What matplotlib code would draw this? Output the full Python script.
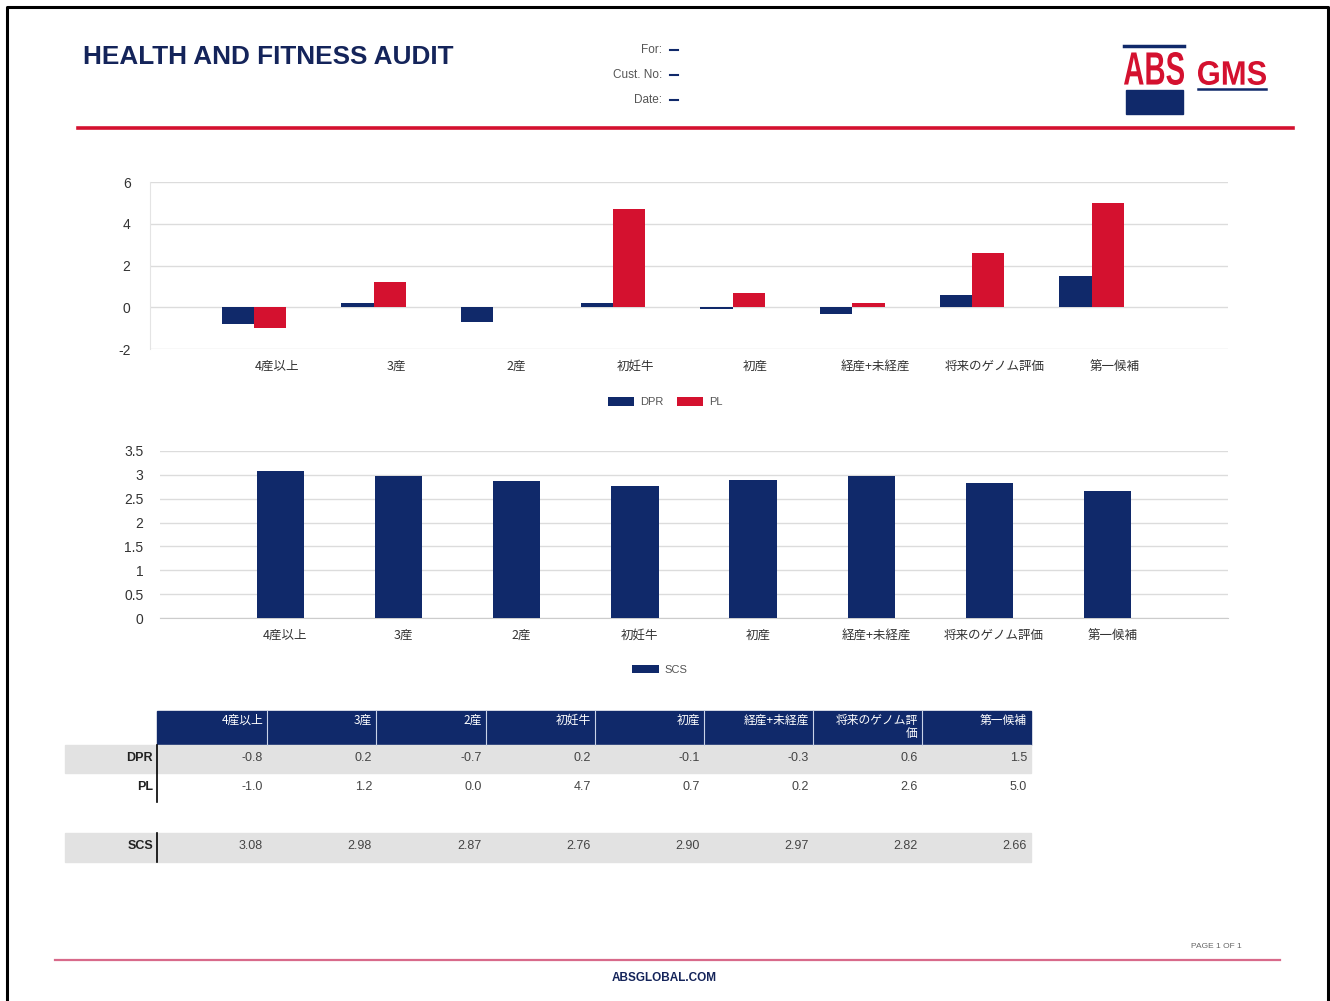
import matplotlib
matplotlib.use("Agg")
import matplotlib.pyplot as plt
from matplotlib.patches import Rectangle, PathPatch
from matplotlib.textpath import TextPath
from matplotlib.font_manager import FontProperties
from matplotlib.transforms import Affine2D
import numpy as np

# ---------------- data ----------------
categories = ["4産以上", "3産", "2産", "初妊牛", "初産", "経産+未経産", "将来のゲノム評価", "第一候補"]
header_labels = ["4産以上", "3産", "2産", "初妊牛", "初産", "経産+未経産", "将来のゲノム評\n価", "第一候補"]
dpr = [-0.8, 0.2, -0.7, 0.2, -0.1, -0.3, 0.6, 1.5]
pl = [-1.0, 1.2, 0.0, 4.7, 0.7, 0.2, 2.6, 5.0]
scs = [3.08, 2.98, 2.87, 2.76, 2.90, 2.97, 2.82, 2.66]
top_yticks = [-2, 0, 2, 4, 6]
bot_yticks = [0, 0.5, 1, 1.5, 2, 2.5, 3, 3.5]
bot_yticklabels = ["0", "0.5", "1", "1.5", "2", "2.5", "3", "3.5"]

NAVY = "#10296a"
RED = "#d4112f"
GRID = "#dcdcdc"
JP = ["Noto Sans CJK JP", "DejaVu Sans"]
SANS = ["Liberation Sans", "Noto Sans CJK JP", "DejaVu Sans"]

W, H = 1330, 1001
fig = plt.figure(figsize=(W / 100, H / 100), dpi=100)
fig.patch.set_facecolor("white")


def px_axes(x0, y0, x1, y1, **kw):
    return fig.add_axes([x0 / W, 1 - y1 / H, (x1 - x0) / W, (y1 - y0) / H], **kw)


# ---------------- top chart ----------------
ax1 = px_axes(150, 182, 1228, 349)
x = np.arange(len(categories))
bw = 0.27
ax1.bar(x - bw / 2, dpr, bw, color=NAVY, label="DPR", zorder=3)
ax1.bar(x + bw / 2, pl, bw, color=RED, label="PL", zorder=3)
ax1.set_xlim(-0.87, 8.14)
ax1.set_ylim(-2, 6)
ax1.set_yticks(top_yticks)
ax1.set_yticklabels([str(t) for t in top_yticks], fontsize=10, family=SANS, color="#333333")
ax1.set_xticks(x + 0.19)
ax1.set_xticklabels(categories, fontsize=9, family=JP, color="#333333")
ax1.tick_params(axis="both", length=0, pad=14)
ax1.tick_params(axis="x", pad=8)
ax1.grid(axis="y", color=GRID, linewidth=1, zorder=0)
for s in ["top", "right", "bottom"]:
    ax1.spines[s].set_visible(False)
ax1.spines["left"].set_color("#e4e4e4")
ax1.legend(loc="center", bbox_to_anchor=(0.5 + (665 - 689) / 1078, -0.32), ncol=2, frameon=False,
           prop={"family": SANS, "size": 8}, handlelength=2.4, handleheight=0.8,
           columnspacing=1.2, handletextpad=0.5, labelcolor="#555555")

# ---------------- bottom chart ----------------
ax2 = px_axes(160, 451, 1228, 618)
bw2 = 0.40
ax2.bar(x, scs, bw2, color=NAVY, label="SCS", zorder=3)
ax2.set_xlim(-1.02, 8.02)
ax2.set_ylim(0, 3.5)
ax2.set_yticks(bot_yticks)
ax2.set_yticklabels(bot_yticklabels, fontsize=10, family=SANS, color="#333333")
ax2.set_xticks(x + 0.04)
ax2.set_xticklabels(categories, fontsize=9, family=JP, color="#333333")
ax2.tick_params(axis="y", length=0, pad=12)
ax2.tick_params(axis="x", length=0, pad=8)
ax2.grid(axis="y", color=GRID, linewidth=1, zorder=0)
for s in ["top", "right", "left"]:
    ax2.spines[s].set_visible(False)
ax2.spines["bottom"].set_color("#cccccc")
ax2.legend(loc="center", bbox_to_anchor=((660 - 160) / 1068, -0.31), ncol=1, frameon=False,
           prop={"family": SANS, "size": 8}, handlelength=2.4, handleheight=0.8,
           handletextpad=0.5, labelcolor="#555555")

# ---------------- overlay (page furniture + table) ----------------
ov = fig.add_axes([0, 0, 1, 1], zorder=-1)
ov.set_xlim(0, W)
ov.set_ylim(H, 0)
ov.axis("off")

# page border
ov.plot([7, 7, 1328, 1328], [1001, 7, 7, 1001], color="black", linewidth=2.2)

# header
ov.text(83, 57, "HEALTH AND FITNESS AUDIT", fontsize=18.8, fontweight="bold", color="#14245a",
        family=SANS, va="center", ha="left")
for yy, lab in zip([50, 75, 100], ["For:", "Cust. No:", "Date:"]):
    ov.text(662, yy, lab, fontsize=8.5, color="#555555", family=SANS, ha="right", va="center")
    ov.plot([670, 678], [yy, yy], color=NAVY, linewidth=1.5)
ov.plot([78, 1293], [128, 128], color=RED, linewidth=2.6)


# logo (text scaled into a box)
def boxed_text(s, x0, y0, x1, y1, color, weight="bold"):
    tp = TextPath((0, 0), s, size=10, prop=FontProperties(family="Liberation Sans", weight=weight))
    bb = tp.get_extents()
    sx = (x1 - x0) / bb.width
    sy = (y1 - y0) / bb.height
    tr = Affine2D().translate(-bb.x0, -bb.y0).scale(sx, -sy).translate(x0, y1)
    path = tr.transform_path(tp)
    ov.add_patch(PathPatch(path, facecolor=color, edgecolor="none"))


ov.plot([1124, 1184], [46, 46], color=NAVY, linewidth=2.5)
boxed_text("ABS", 1124, 52, 1184, 85, RED)
ov.add_patch(Rectangle((1126, 90), 57, 24, color=NAVY))
boxed_text("GMS", 1198, 61, 1266, 85, RED)
ov.plot([1198, 1266], [89, 89], color=NAVY, linewidth=1.8)

# table
col_edges = [157, 267, 376, 486, 595, 704, 813, 922, 1031]
ov.add_patch(Rectangle((157, 711), 1031 - 157, 34, color=NAVY, zorder=1))
for xe in col_edges[1:-1]:
    ov.plot([xe, xe], [711, 745], color="#c8d2e8", linewidth=0.8, zorder=2)
for i, lab in enumerate(header_labels):
    ov.text(col_edges[i + 1] - 4, 714, lab, fontsize=8.5, color="white", family=JP, ha="right", va="top",
            linespacing=0.95, zorder=3)
# row backgrounds
ov.add_patch(Rectangle((65, 745), 1031 - 65, 28, color="#e2e2e2", zorder=1))
ov.add_patch(Rectangle((65, 833), 1031 - 65, 29, color="#e2e2e2", zorder=1))
ov.plot([157, 157], [745, 802], color="black", linewidth=1.2, zorder=2)
ov.plot([157, 157], [833, 862], color="black", linewidth=1.2, zorder=2)
rows = [("DPR", 758, [f"{v:.1f}" for v in dpr]),
        ("PL", 787, [f"{v:.1f}" for v in pl]),
        ("SCS", 846, [f"{v:.2f}" for v in scs])]
for name, yy, vals in rows:
    ov.text(153, yy, name, fontsize=9, fontweight="bold", color="#222222", family=SANS, ha="right", va="center", zorder=3)
    for i, v in enumerate(vals):
        ov.text(col_edges[i + 1] - 4, yy, v, fontsize=9, color="#444444", family=SANS, ha="right", va="center", zorder=3)

# footer
ov.text(1242, 947, "PAGE 1 OF 1", fontsize=6, color="#666666", family=SANS, ha="right", va="center")
ov.plot([55, 1280], [960, 960], color="#d86a8a", linewidth=1.6)
ov.text(664, 978, "ABSGLOBAL.COM", fontsize=8.5, fontweight="bold", color="#14245a", family=SANS,
        ha="center", va="center")

fig.savefig("out.png", dpi=100, facecolor="white")
